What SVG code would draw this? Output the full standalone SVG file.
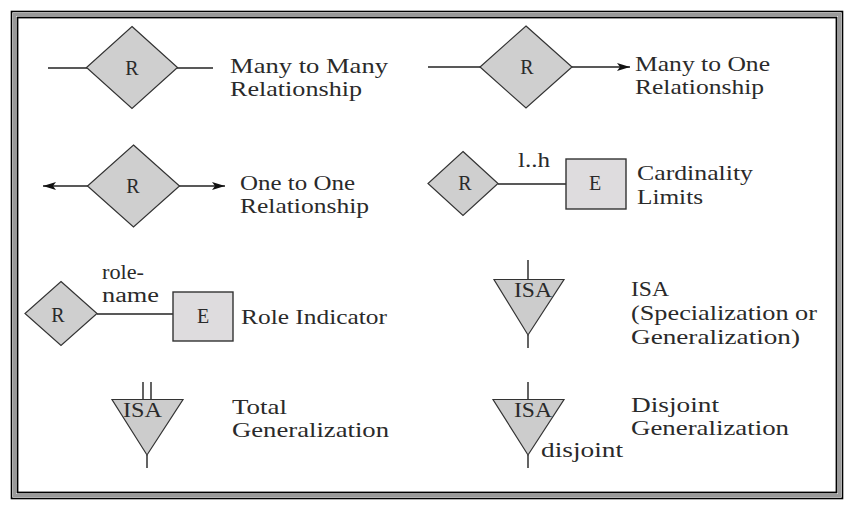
<svg xmlns="http://www.w3.org/2000/svg" width="856" height="509" viewBox="0 0 856 509">
<defs>
<marker id="arr" viewBox="0 -4 13 8" markerWidth="13" markerHeight="8" refX="13" refY="0" orient="auto" markerUnits="userSpaceOnUse">
<path d="M0,-4 L13,0 L0,4 L3,0 z" fill="#111"/>
</marker>
<style>
.dia{fill:#cfcfcf;stroke:#333;stroke-width:1.2}
.box{fill:#dedcde;stroke:#333;stroke-width:1.4}
.tri{fill:#cccccc;stroke:#333;stroke-width:1.2}
.ln{stroke:#222;stroke-width:1.4;fill:none}
.sm{font-family:"Liberation Serif","Times New Roman",serif;font-size:20px;fill:#2a2a2a}
.lb{font-family:"Liberation Serif","Times New Roman",serif;font-size:22px;fill:#2a2a2a}
.rl{font-family:"Liberation Serif","Times New Roman",serif;font-size:20px;fill:#2a2a2a}
</style>
</defs>
<rect width="856" height="509" fill="#fff"/>
<g id="frame" fill="none">
<rect x="11.5" y="11.5" width="831" height="487" stroke="#000" stroke-width="1.6"/>
<rect x="14.5" y="14.5" width="825" height="481" stroke="#9a9a9a" stroke-width="3"/>
<rect x="17.5" y="17.5" width="819" height="475" stroke="#000" stroke-width="1.8"/>
</g>
<g id="connectors">
<line class="ln" x1="48" y1="68" x2="87" y2="68"/>
<line class="ln" x1="177" y1="68" x2="213" y2="68"/>
<line class="ln" x1="428" y1="67" x2="480" y2="67"/>
<line class="ln" x1="572" y1="67" x2="630" y2="67" marker-end="url(#arr)"/>
<line class="ln" x1="88" y1="186" x2="43" y2="186" marker-end="url(#arr)"/>
<line class="ln" x1="179" y1="186" x2="225" y2="186" marker-end="url(#arr)"/>
<line class="ln" x1="498" y1="184" x2="566" y2="184"/>
<line class="ln" x1="97" y1="314" x2="173" y2="314"/>
<line class="ln" x1="528" y1="260" x2="528" y2="280"/>
<line class="ln" x1="528" y1="335" x2="528" y2="348"/>
<line class="ln" x1="143" y1="382" x2="143" y2="400"/>
<line class="ln" x1="151" y1="382" x2="151" y2="400"/>
<line class="ln" x1="147" y1="455" x2="147" y2="468"/>
<line class="ln" x1="528" y1="382" x2="528" y2="400"/>
<line class="ln" x1="528" y1="455" x2="528" y2="468"/>
</g>
<g id="r-many-many">
<polygon class="dia" points="132,26.5 177.5,67.5 132,108.5 86.5,67.5"/>
<text class="sm" x="132" y="75" text-anchor="middle">R</text>
</g>
<g id="r-many-one">
<polygon class="dia" points="526,26 572,67 526,108 480,67"/>
<text class="sm" x="527" y="74" text-anchor="middle">R</text>
</g>
<g id="r-one-one">
<polygon class="dia" points="133.5,145 179.5,186 133.5,227 87.5,186"/>
<text class="sm" x="133" y="193" text-anchor="middle">R</text>
</g>
<g id="r-card">
<polygon class="dia" points="463,151.5 498,183.5 463,215.5 428,183.5"/>
<text class="sm" x="465" y="190" text-anchor="middle">R</text>
</g>
<g id="e-card">
<rect class="box" x="566" y="159" width="60" height="50"/>
<text class="sm" x="595" y="190" text-anchor="middle">E</text>
</g>
<g id="r-role">
<polygon class="dia" points="61,281.5 97,313.5 61,345.5 25,313.5"/>
<text class="sm" x="58" y="322" text-anchor="middle">R</text>
</g>
<g id="e-role">
<rect class="box" x="173" y="292" width="60" height="49"/>
<text class="sm" x="203" y="323" text-anchor="middle">E</text>
</g>
<g id="isa">
<polygon class="tri" points="494,279.5 564,279.5 528,335"/>
<text class="sm" x="514" y="297" textLength="38" lengthAdjust="spacingAndGlyphs">ISA</text>
</g>
<g id="isa-total">
<polygon class="tri" points="112,399.5 183,399.5 147,455"/>
<text class="sm" x="123" y="417" textLength="39" lengthAdjust="spacingAndGlyphs">ISA</text>
</g>
<g id="isa-disjoint">
<polygon class="tri" points="493,399.5 564,399.5 528,455"/>
<text class="sm" x="514" y="417" textLength="38" lengthAdjust="spacingAndGlyphs">ISA</text>
</g>
<g id="edge-labels">
<text class="sm" x="518" y="167" textLength="32" lengthAdjust="spacingAndGlyphs">l..h</text>
<text class="rl" x="102" y="279" textLength="42" lengthAdjust="spacingAndGlyphs">role-</text>
<text class="rl" x="102" y="302" textLength="57" lengthAdjust="spacingAndGlyphs">name</text>
<text class="lb" x="541" y="457" textLength="82" lengthAdjust="spacingAndGlyphs">disjoint</text>
</g>
<g id="labels">
<text class="lb" x="230" y="73" textLength="158" lengthAdjust="spacingAndGlyphs">Many to Many</text>
<text class="lb" x="230" y="96" textLength="132" lengthAdjust="spacingAndGlyphs">Relationship</text>
<text class="lb" x="635" y="71" textLength="135" lengthAdjust="spacingAndGlyphs">Many to One</text>
<text class="lb" x="635" y="94" textLength="129" lengthAdjust="spacingAndGlyphs">Relationship</text>
<text class="lb" x="240" y="190" textLength="115" lengthAdjust="spacingAndGlyphs">One to One</text>
<text class="lb" x="240" y="213" textLength="129" lengthAdjust="spacingAndGlyphs">Relationship</text>
<text class="lb" x="637" y="180" textLength="116" lengthAdjust="spacingAndGlyphs">Cardinality</text>
<text class="lb" x="637" y="204" textLength="66" lengthAdjust="spacingAndGlyphs">Limits</text>
<text class="lb" x="241" y="324" textLength="146" lengthAdjust="spacingAndGlyphs">Role Indicator</text>
<text class="lb" x="631" y="296" textLength="38" lengthAdjust="spacingAndGlyphs">ISA</text>
<text class="lb" x="631" y="320" textLength="186" lengthAdjust="spacingAndGlyphs">(Specialization or</text>
<text class="lb" x="631" y="344" textLength="169" lengthAdjust="spacingAndGlyphs">Generalization)</text>
<text class="lb" x="232" y="414" textLength="55" lengthAdjust="spacingAndGlyphs">Total</text>
<text class="lb" x="232" y="437" textLength="157" lengthAdjust="spacingAndGlyphs">Generalization</text>
<text class="lb" x="631" y="412" textLength="88" lengthAdjust="spacingAndGlyphs">Disjoint</text>
<text class="lb" x="631" y="435" textLength="158" lengthAdjust="spacingAndGlyphs">Generalization</text>
</g>
</svg>
